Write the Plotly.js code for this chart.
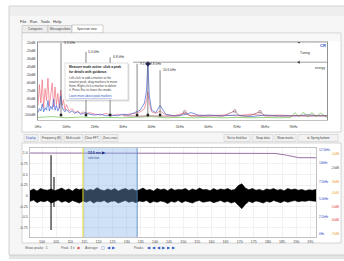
<!DOCTYPE html>
<html><head><meta charset="utf-8">
<script src="https://cdn.plot.ly/plotly-3.0.1.min.js"></script>
<style>html,body{margin:0;padding:0;background:#fff;overflow:hidden}#c{width:344px;height:261px}</style>
</head><body><div id="c"></div><script>
// ---------------- data ----------------
// spectrum (top)
const specTicks = [0,1,2,3,4,5,6,7,8,9];
const specTickText = ["0Hz","1kHz","2kHz","3kHz","4kHz","5kHz","6kHz","7kHz","8kHz","9kHz"];
const levelTicks = [9,8,7,6,5,4,3,2,1,0];
const levelTickText = ["-10dB","-20dB","-30dB","-40dB","-50dB","-60dB","-70dB","-80dB","-90dB","-100dB"];
const specX = [0.00,0.05,0.10,0.15,0.20,0.25,0.30,0.35,0.40,0.45,0.50,0.55,0.60,0.65,0.70,0.75,0.80,0.85,0.90,0.95,1.00,
  1.10,1.20,1.30,1.40,1.50,1.60,1.70,1.80,
  2.00,2.20,2.40,2.60,2.80,3.00,3.20,3.40,3.60,
  3.75,3.82,3.87,3.92,4.00,4.15,4.30,
  4.50,4.80,5.10,5.40,5.70,6.00,
  6.50,7.00,7.50,8.00,8.50,9.00,9.50,10.00,10.18];
const redLevel = [1.2,3.8,1.5,4.4,0.9,3.3,1.8,4.6,1.1,2.9,4.0,1.0,3.5,1.3,2.7,0.8,3.1,1.2,1.9,0.6,1.3,
  0.5,0.8,0.3,0.5,0.2,0.4,0.1,0.3,
  0.1,0.0,0.2,-0.1,0.1,0.0,0.1,0.2,0.4,
  0.8,1.8,2.9,1.5,0.4,0.2,0.5,
  0.0,-0.1,0.2,-0.1,0.0,-0.1,
  0.0,-0.1,0.1,-0.1,0.0,-0.1,0.0,-0.1,-0.1];
const blueLevel = [0.3,0.8,0.5,1.4,0.4,0.9,0.6,1.8,0.5,1.1,0.7,2.0,0.6,1.2,0.5,0.9,2.4,1.0,0.6,0.4,0.7,
  0.3,0.5,0.2,0.4,0.1,0.2,0.3,0.1,
  0.0,0.1,-0.1,0.0,-0.1,0.1,0.0,0.3,0.6,
  1.5,3.0,6.4,2.5,0.6,0.3,1.2,
  0.1,-0.1,0.0,0.3,-0.1,0.0,
  -0.1,0.0,-0.2,0.0,-0.1,-0.1,0.0,-0.1,-0.1];
const greenX = [0,0.5,1.0,1.5,2.0,2.5,3.0,3.5,4.0,4.5,5.0,5.5,6.0,6.5,7.0,7.5,8.0,8.5,8.9,9.05,9.2,9.35,9.5,9.65,9.8,9.95,10.18];
const greenLevel = [-0.3,-0.2,-0.35,-0.25,-0.35,-0.3,-0.35,-0.3,-0.2,-0.35,-0.3,-0.35,-0.3,-0.35,-0.3,-0.35,-0.3,-0.35,-0.3,0.3,-0.2,0.35,-0.2,0.3,-0.2,0.25,-0.3];
const avgX = [3.0,3.5,4.0,4.5,5.0,5.17,5.35,5.7,6.1,6.5,6.93,7.1,7.4,7.82,8.0,8.5,9.0,9.5,10.18];
const avgLevel = [-0.1,-0.15,-0.1,-0.15,-0.1,0.4,-0.1,-0.15,-0.1,-0.15,0.5,-0.1,-0.15,0.4,-0.1,-0.15,-0.1,-0.15,-0.1];
const peakX = [0.81,1.69,2.54,3.49,3.87,4.30];
const peakTop = [9.0,7.9,7.2,6.4,6.4,5.6];
const peakLabels = ["3.3 kHz","5.0 kHz","6.8 kHz","9.1 kHz","9.8 kHz","10.6 kHz"];
const thresholdLevel = [9.125, 6.6];
const thresholdLabels = ["Tuning","energy"];

// waveform (bottom)
const timeTicks = [0,1,2,3,4,5,6,7,8,9,10,11,12,13,14,15,16,17,18,19];
const timeTickText = ["100","105","110","115","120","125","130","135","140","145","150","155","160","165","170","175","180","185","190","195"];
const ampTicks = [1,0.75,0.5,0.25,0,-0.25,-0.5,-0.75];
const ampTickText = ["1.0","0.75","0.5","0.25","0","-0.25","-0.5","-0.75"];
const noiseStart = -0.85, noiseStep = 0.25;
const noiseUpper = [0.12,0.16,0.11,0.17,0.14,0.13,0.16,0.12,0.15,0.18,
  0.13,0.16,0.11,0.17,0.14,0.17,0.12,0.15,0.13,0.19,
  0.14,0.12,0.16,0.13,0.17,0.11,0.15,0.17,0.13,0.16,
  0.12,0.14,0.18,0.13,0.15,0.11,0.17,0.14,0.16,0.12,
  0.17,0.13,0.15,0.14,0.17,0.12,0.16,0.13,0.18,0.14,
  0.15,0.12,0.17,0.13,0.16,0.14,0.17,0.13,0.15,0.24,
  0.28,0.18,0.14,0.17,0.13,0.15,0.12,0.16,0.14,0.17,
  0.13,0.15,0.12,0.17,0.14,0.16,0.13,0.15,0.12,0.14,
  0.13,0.15];
const noiseLower = [-0.13,-0.10,-0.16,-0.12,-0.14,-0.11,-0.17,-0.13,-0.10,-0.15,
  -0.12,-0.16,-0.11,-0.14,-0.17,-0.12,-0.15,-0.11,-0.17,-0.13,
  -0.14,-0.11,-0.16,-0.13,-0.12,-0.17,-0.14,-0.11,-0.15,-0.13,
  -0.16,-0.12,-0.14,-0.11,-0.17,-0.13,-0.15,-0.12,-0.14,-0.18,
  -0.13,-0.15,-0.11,-0.16,-0.12,-0.14,-0.17,-0.13,-0.11,-0.15,
  -0.14,-0.12,-0.16,-0.13,-0.11,-0.15,-0.13,-0.17,-0.14,-0.22,
  -0.30,-0.20,-0.13,-0.16,-0.12,-0.14,-0.17,-0.13,-0.15,-0.11,
  -0.14,-0.16,-0.12,-0.15,-0.13,-0.11,-0.14,-0.12,-0.13,-0.11,
  -0.12,-0.13];
const spikeT = [0.64,0.85];
const spikeHi = [0.95,0.44];
const spikeLo = [-0.80,-0.26];
const envX = [-0.85,15.5,16.5,17.3,18.2,19.4];
const envLevel = [1.0,1.0,0.99,0.95,0.89,0.89];
const selection = [2.9,6.74];
const selectionLabel = "12.0 ms \u25B6";
const freqScaleText = ["12.5kHz","10kHz","7.5kHz","5.0kHz","2.5kHz","0Hz"];
const dbScaleText = ["-10dB","-20dB","-30dB","-40dB","-50dB","-60dB","-70dB"];

// ---------------- helpers ----------------
const W=344,H=261;
const px = x => x/W, py = y => 1 - y/H;
const FONT = 'Liberation Sans, Arial, sans-serif';
function rect(x0,y0,x1,y1,fill,line,lw){
  return {type:'rect',xref:'paper',yref:'paper',x0:px(x0),x1:px(x1),y0:py(y1),y1:py(y0),
    fillcolor:fill,line:{color:line||'rgba(0,0,0,0)',width:lw==null?0.6:lw},layer:'below'};
}
function txt(x,y,s,size,color,extra){
  return Object.assign({xref:'paper',yref:'paper',x:px(x),y:py(y),text:s,showarrow:false,xanchor:'left',yanchor:'middle',
    borderpad:0,font:{size:size||4,color:color||'#444',family:FONT}},extra||{});
}

// ---------------- traces ----------------
const traces = [];
traces.push({x:specX,y:redLevel,type:'scatter',mode:'lines',line:{color:'#ee6f7c',width:0.7},xaxis:'x',yaxis:'y'});
traces.push({x:specX,y:blueLevel,type:'scatter',mode:'lines',line:{color:'#4466d8',width:0.7},xaxis:'x',yaxis:'y'});
traces.push({x:greenX,y:greenLevel,type:'scatter',mode:'lines',line:{color:'#6cc04a',width:0.7},xaxis:'x',yaxis:'y'});
traces.push({x:avgX,y:avgLevel,type:'scatter',mode:'lines+markers',line:{color:'#a0526a',width:0.7},
  marker:{symbol:'circle-open',color:'#7a4050',size:avgLevel.map(v=>v>0.3?3:0),line:{width:0.6}},xaxis:'x',yaxis:'y'});
const pmx=[],pmy=[];
peakX.forEach((x,i)=>{pmx.push(x,x,null);pmy.push(-0.2,peakTop[i],null);});
traces.push({x:pmx,y:pmy,type:'scatter',mode:'lines',line:{color:'#555',width:0.7},xaxis:'x',yaxis:'y'});
traces.push({x:peakX,y:peakX.map(()=>0),type:'scatter',mode:'markers',marker:{symbol:'square',color:'#222',size:2.5},xaxis:'x',yaxis:'y'});
traces.push({x:[peakX[4]],y:[peakTop[4]],type:'scatter',mode:'markers',marker:{symbol:'diamond',color:'#1a1a60',size:4},xaxis:'x',yaxis:'y'});
thresholdLevel.forEach((lv,i)=>{
  traces.push({x:[i===0?0:3.35,10.18],y:[lv,lv],type:'scatter',mode:'lines',line:{color:'#777',width:0.7},xaxis:'x',yaxis:'y'});
  traces.push({x:[9.19],y:[lv],type:'scatter',mode:'markers',marker:{symbol:'triangle-left',color:'#333',size:3},xaxis:'x',yaxis:'y'});
});

const tU = noiseUpper.map((_,i)=>noiseStart+i*noiseStep);
const tL = noiseLower.map((_,i)=>noiseStart+i*noiseStep);
traces.push({x:tL,y:noiseLower,type:'scatter',mode:'lines',line:{color:'#000',width:0.6},xaxis:'x2',yaxis:'y2'});
traces.push({x:tU,y:noiseUpper,type:'scatter',mode:'lines',fill:'tonexty',fillcolor:'#000',line:{color:'#000',width:0.6},xaxis:'x2',yaxis:'y2'});
const skx=[],sky=[];
spikeT.forEach((t,i)=>{skx.push(t,t,null);sky.push(spikeLo[i],spikeHi[i],null);});
traces.push({x:skx,y:sky,type:'scatter',mode:'lines',line:{color:'#000',width:1},xaxis:'x2',yaxis:'y2'});
traces.push({x:envX,y:envLevel,type:'scatter',mode:'lines',line:{color:'#9a72aa',width:1},xaxis:'x2',yaxis:'y2'});

// ---------------- chrome ----------------
const shapes = [];
const ann = [];
shapes.push(rect(9,255,344,259,'#e4e4e4',null,0));
shapes.push(rect(9,6,345,255,'#f6f6f6','#c6c6c6',0.8));
shapes.push(rect(10,7,344,16,'#eeeeee',null,0));
ann.push(txt(19,21,'File&nbsp;&nbsp;&nbsp;Run&nbsp;&nbsp;&nbsp;Tools&nbsp;&nbsp;&nbsp;Help',4,'#333'));
shapes.push(rect(22,25.5,48,33,'#ececec','#b0b0b0',0.5));
shapes.push(rect(48,25.5,72,33,'#ececec','#b0b0b0',0.5));
shapes.push(rect(72,25,103,33,'#ffffff','#a0a0a0',0.5));
ann.push(txt(35,29.3,'Categories',3,'#444',{xanchor:'center'}));
ann.push(txt(60,29.3,'Messages/date',3,'#444',{xanchor:'center'}));
ann.push(txt(87.5,29.3,'Spectrum view',3,'#333',{xanchor:'center'}));
shapes.push(rect(22,33,341,132,'#ffffff','#bdbdbd',0.6));
shapes.push(rect(23,34,340,41,'#f8f8f8',null,0));
const leftBtns = [[24,38,'Display','#2a55c0'],[41,62,'Frequency (E)','#444'],[64,83,'Multi-scale','#444'],[85,100,'Clear FFT','#444'],[102,118,'Zero-cross','#444']];
leftBtns.forEach(b=>{shapes.push(rect(b[0],134.5,b[1],141.5,'#f2f2f2','#c4c4c4',0.5));ann.push(txt((b[0]+b[1])/2,138,b[2],3,b[3],{xanchor:'center'}));});
const rightBtns = [[224,250,'Set to third bar'],[252,273,'Snap data'],[275,296,'Show marks'],[298,338,'\u2699 Spring bottom']];
rightBtns.forEach(b=>{shapes.push(rect(b[0],134.5,b[1],141.5,'#f2f2f2','#c4c4c4',0.5));ann.push(txt((b[0]+b[1])/2,138,b[2],3,'#444',{xanchor:'center'}));});
shapes.push(rect(22,143,341,243,'#ffffff','#bdbdbd',0.6));
ann.push(txt(24,247.5,'Show peaks: &nbsp;1',3.3,'#555'));
ann.push(txt(60,247.5,'Peak &nbsp;3 \u25BE',3.3,'#555'));
ann.push(txt(76,247.5,'\u25C6',3.5,'#e05050'));
ann.push(txt(84,247.5,'Average:',3.3,'#555'));
ann.push(txt(133,247.5,'Peaks',3.3,'#555'));
[[100,'\u25A2'],[106,'\u25C0'],[111,'\u25B6'],[146,'\u25C0'],[151,'\u25C0'],[156,'\u25C0'],[161,'\u25B6'],[166,'\u25B6'],[171,'\u25B6']].forEach(b=>{
  ann.push(txt(b[0],247.5,b[1],4,'#2a55c0'));
});
shapes.push({type:'rect',xref:'paper',yref:'paper',x0:px(66),x1:px(129.5),y0:py(101.5),y1:py(64),fillcolor:'rgba(0,0,0,0.12)',line:{width:0},layer:'above'});
shapes.push({type:'rect',xref:'paper',yref:'paper',x0:px(65),x1:px(128),y0:py(100),y1:py(63),fillcolor:'#ffffff',line:{color:'#b8b8b8',width:0.5},layer:'above'});
ann.push(txt(68,67.5,'<b>Measure mode active: click a peak</b>',3.2,'#222'));
ann.push(txt(68,72,'<b>for details with guidance.</b>',3.2,'#222'));
ann.push(txt(68,78,'Left-click to add a marker at the',3,'#444'));
ann.push(txt(68,82,'nearest peak; drag markers to move',3,'#444'));
ann.push(txt(68,86,'them. Right-click a marker to delete',3,'#444'));
ann.push(txt(68,90,'it. Press Esc to leave this mode.',3,'#444'));
ann.push(txt(68,95.5,'<u>Learn more about peak markers</u>',3,'#2a55c0'));
peakX.forEach((x,i)=>{
  ann.push({xref:'x',yref:'y',x:x,y:peakTop[i],text:peakLabels[i],showarrow:false,xanchor:'left',yanchor:'middle',xshift:1.5,
    borderpad:0,font:{size:3.3,color:'#333',family:FONT}});
});
ann.push({xref:'x',yref:'y',x:9.15,y:thresholdLevel[0],text:thresholdLabels[0],showarrow:false,xanchor:'left',yanchor:'top',yshift:-7,font:{size:3.3,color:'#333',family:FONT}});
ann.push({xref:'x',yref:'y',x:9.7,y:thresholdLevel[1],text:thresholdLabels[1],showarrow:false,xanchor:'left',yanchor:'top',yshift:-1.5,font:{size:3.3,color:'#333',family:FONT}});
ann.push(txt(319,45,'<b>CR</b>',4,'#3050c8'));
shapes.push({type:'rect',xref:'x2',yref:'y2',x0:selection[0],x1:selection[1],y0:-0.963,y1:1.117,fillcolor:'#7fb0ea',opacity:0.38,line:{width:0},layer:'above'});
shapes.push({type:'line',xref:'x2',yref:'y2',x0:selection[0],x1:selection[0],y0:-0.963,y1:1.117,line:{color:'#e8d820',width:1},layer:'above'});
shapes.push({type:'line',xref:'x2',yref:'y2',x0:selection[1],x1:selection[1],y0:-0.963,y1:1.117,line:{color:'#4f7fc0',width:0.8},layer:'above'});
ann.push({xref:'x2',yref:'y2',x:selection[0]+0.25,y:1.0,text:'<b>'+selectionLabel+'</b>',showarrow:false,xanchor:'left',yanchor:'middle',
  font:{size:3.5,color:'#1a2a80',family:FONT}});
ann.push({xref:'x2',yref:'y2',x:selection[0]+0.25,y:0.88,text:'selection',showarrow:false,xanchor:'left',yanchor:'middle',
  font:{size:2.8,color:'#3a4a90',family:FONT}});
const blueYs=[150,163,182,199,217,234];
freqScaleText.forEach((s,i)=>ann.push(txt(318,blueYs[i],s,3,'#3040c0')));
const dbYs=[154,168,182,193,207,220,234];
const dbCols=['#e89a30','#555','#e89a30','#e8b030','#e04848','#e04848','#e89a30'];
dbScaleText.forEach((s,i)=>ann.push(txt(330,dbYs[i],s,3,dbCols[i])));

const tickFont = {size:3.6,color:'#444',family:FONT};
const layout = {
  width:W,height:H,margin:{l:0,r:0,t:0,b:0},paper_bgcolor:'#ffffff',plot_bgcolor:'rgba(0,0,0,0)',showlegend:false,
  xaxis:{domain:[px(38),px(327)],range:[0,10.18],anchor:'y',tickvals:specTicks,ticktext:specTickText,tickfont:tickFont,
    ticks:'outside',ticklen:3,tickcolor:'rgba(0,0,0,0)',showgrid:false,zeroline:false,showline:true,linecolor:'#999',linewidth:0.6,mirror:true,fixedrange:true},
  yaxis:{domain:[py(120),py(42)],range:[-0.625,9.125],anchor:'x',tickvals:levelTicks,ticktext:levelTickText,tickfont:tickFont,
    ticks:'outside',ticklen:1,tickcolor:'rgba(0,0,0,0)',showgrid:false,zeroline:false,showline:true,linecolor:'#777',linewidth:0.8,mirror:true,fixedrange:true},
  xaxis2:{domain:[px(30),px(316)],range:[-0.85,19.4],anchor:'y2',tickvals:timeTicks,ticktext:timeTickText,tickfont:tickFont,
    ticks:'outside',ticklen:1,tickcolor:'rgba(0,0,0,0)',showgrid:true,gridcolor:'#e4e4e4',gridwidth:0.5,zeroline:false,showline:true,linecolor:'#999',linewidth:0.6,mirror:true,fixedrange:true},
  yaxis2:{domain:[py(237),py(148)],range:[-0.963,1.117],anchor:'x2',tickvals:ampTicks,ticktext:ampTickText,tickfont:tickFont,
    ticks:'outside',ticklen:1,tickcolor:'rgba(0,0,0,0)',showgrid:true,gridcolor:'#e4e4e4',gridwidth:0.5,zeroline:false,showline:true,linecolor:'#999',linewidth:0.6,mirror:true,fixedrange:true},
  shapes:shapes,annotations:ann
};
Plotly.newPlot('c',traces,layout,{staticPlot:true,displayModeBar:false});
</script></body></html>
